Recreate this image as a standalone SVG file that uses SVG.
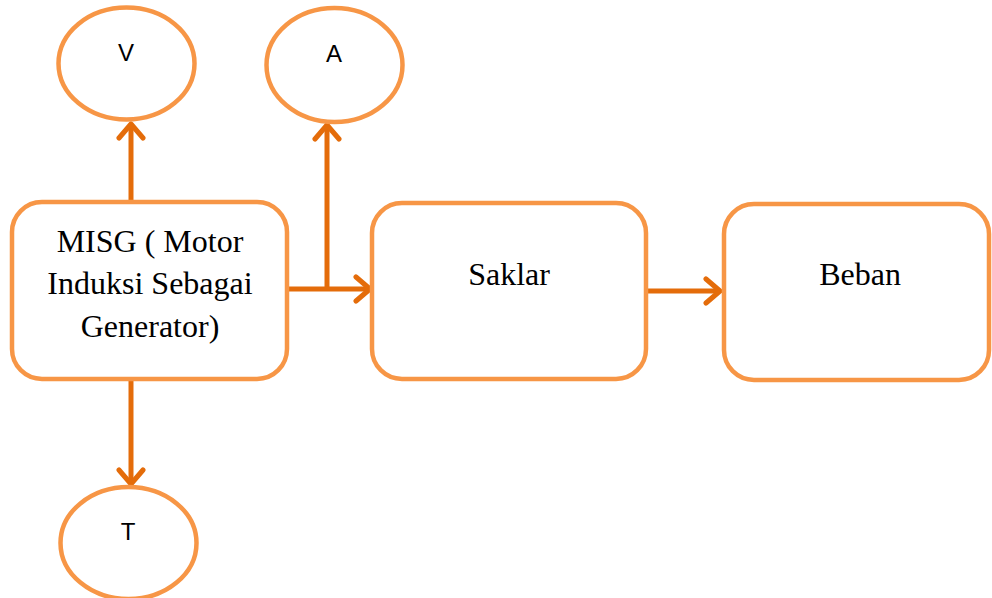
<svg xmlns="http://www.w3.org/2000/svg" width="992" height="598" viewBox="0 0 992 598">
<defs>
<style>
.node{fill:#ffffff;stroke:#F79646;stroke-width:4.5}
.conn{fill:none;stroke:#E46C0A;stroke-width:5}
.head{fill:none;stroke:#E46C0A;stroke-width:5;stroke-linecap:round;stroke-linejoin:round}
.serif{font-family:"Liberation Serif","Times New Roman",serif;font-size:32px;fill:#000;text-anchor:middle}
.sans{font-family:"Liberation Sans",Arial,sans-serif;font-size:24px;fill:#000;text-anchor:middle}
</style>
<marker id="arr" markerUnits="userSpaceOnUse" markerWidth="30" markerHeight="30" viewBox="-20 -15 24 30" refX="0" refY="0" orient="auto">
<path d="M-14,-12 L0,0 L-14,12" class="head"/>
</marker>
</defs>
<rect width="992" height="598" fill="#ffffff"/>
<g id="connectors">
<path class="conn" d="M131,201 V124" marker-end="url(#arr)"/>
<path class="conn" d="M327,289 V125" marker-end="url(#arr)"/>
<path class="conn" d="M288,289 H370" marker-end="url(#arr)"/>
<path class="conn" d="M648,291 H720" marker-end="url(#arr)"/>
<path class="conn" d="M131,381 V484" marker-end="url(#arr)"/>
</g>
<g id="node-V">
<ellipse class="node" cx="126.5" cy="63.5" rx="68" ry="56"/>
<text class="sans" x="126" y="61">V</text>
</g>
<g id="node-A">
<ellipse class="node" cx="334.5" cy="65" rx="68" ry="57"/>
<text class="sans" x="334" y="62">A</text>
</g>
<g id="node-T">
<ellipse class="node" cx="128.5" cy="543" rx="68" ry="56"/>
<text class="sans" x="128" y="540">T</text>
</g>
<g id="node-MISG">
<rect class="node" x="12" y="202" width="275" height="177" rx="30"/>
<text class="serif" x="150" y="252">MISG ( Motor</text>
<text class="serif" x="150" y="294">Induksi Sebagai</text>
<text class="serif" x="150" y="337">Generator)</text>
</g>
<g id="node-Saklar">
<rect class="node" x="372" y="203" width="274" height="176" rx="30"/>
<text class="serif" x="509" y="285">Saklar</text>
</g>
<g id="node-Beban">
<rect class="node" x="724" y="204" width="265" height="176" rx="30"/>
<text class="serif" x="860" y="285">Beban</text>
</g>
</svg>
